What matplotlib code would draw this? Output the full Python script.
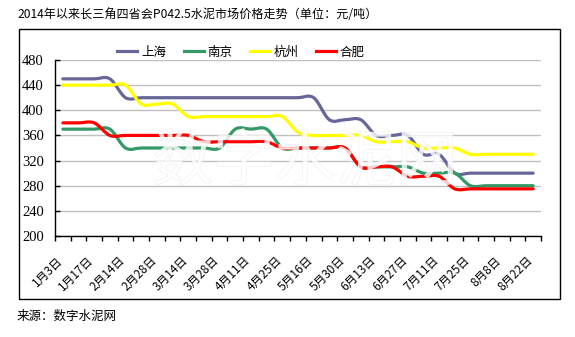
import numpy as np
import matplotlib
matplotlib.use('Agg')
import matplotlib.pyplot as plt
import matplotlib.transforms as mtransforms
import matplotlib.patheffects as pe
from matplotlib.path import Path
from matplotlib.patches import PathPatch, Rectangle
from matplotlib.lines import Line2D

plt.rcParams['font.family'] = ['Noto Sans CJK SC', 'DejaVu Sans']

# weekly quotes, 2014
dates = ['1月3日', '1月10日', '1月17日', '1月24日', '2月14日', '2月21日', '2月28日',
         '3月7日', '3月14日', '3月21日', '3月28日', '4月4日', '4月11日', '4月18日',
         '4月25日', '5月9日', '5月16日', '5月23日', '5月30日', '6月6日', '6月13日',
         '6月20日', '6月27日', '7月4日', '7月11日', '7月18日', '7月25日', '8月1日',
         '8月8日', '8月15日', '8月22日']

shanghai = [450, 450, 450, 450, 420, 420, 420, 420, 420, 420, 420, 420, 420, 420, 420,
            420, 420, 385, 385, 385, 360, 360, 360, 330, 330, 300, 300, 300, 300, 300, 300]
nanjing = [370, 370, 370, 370, 340, 340, 340, 340, 340, 340, 340, 370, 370, 370, 340,
           340, 340, 340, 340, 310, 310, 310, 310, 300, 300, 300, 280, 280, 280, 280, 280]
hangzhou = [440, 440, 440, 440, 440, 410, 410, 410, 390, 390, 390, 390, 390, 390, 390,
            365, 360, 360, 360, 360, 350, 350, 350, 340, 340, 340, 330, 330, 330, 330, 330]
hefei = [380, 380, 380, 360, 360, 360, 360, 360, 360, 350, 350, 350, 350, 350, 340,
         340, 340, 340, 340, 310, 310, 310, 295, 295, 295, 275, 275, 275, 275, 275, 275]

cities = ['上海', '南京', '杭州', '合肥']
series = [shanghai, nanjing, hangzhou, hefei]
colors = ['#666699', '#339966', '#ffff00', '#ff0000']


def smooth_path(y):
    # cubic Bezier through every point, Catmull-Rom style control points
    y = np.asarray(y, dtype=float)
    x = np.arange(len(y), dtype=float)
    pts = np.column_stack([x, y])
    ext = np.vstack([pts[0], pts, pts[-1]])
    verts = [pts[0]]
    codes = [Path.MOVETO]
    for i in range(len(pts) - 1):
        p0, p1, p2, p3 = ext[i], ext[i + 1], ext[i + 2], ext[i + 3]
        c1 = p1 + (p2 - p0) / 6.0
        c2 = p2 - (p3 - p1) / 6.0
        verts += [c1, c2, p2]
        codes += [Path.CURVE4] * 3
    return Path(verts, codes)


fig = plt.figure(figsize=(5.75, 3.37), dpi=100)
ax = fig.add_axes([55 / 575, 1 - 236 / 337, 486 / 575, 176 / 337])

for vals, c in zip(series, colors):
    ax.add_patch(PathPatch(smooth_path(vals), facecolor='none', edgecolor=c,
                           lw=2.3, capstyle='round', joinstyle='round'))

ax.set_xlim(-0.5, len(dates) - 0.5)
ax.set_ylim(200, 480)
ax.set_yticks(range(200, 481, 40))
ax.yaxis.grid(True, color='#c0c0c0', lw=1)
ax.set_axisbelow(True)
for s in ['top', 'right']:
    ax.spines[s].set_visible(False)
for s in ['left', 'bottom']:
    ax.spines[s].set_linewidth(1)

ax.tick_params(axis='y', direction='in', length=3.5, width=1, pad=8)
for lab in ax.get_yticklabels():
    lab.set_family('Liberation Serif')
    lab.set_fontsize(10.5)

# labels on every other category, tick marks between categories
ax.set_xticks(range(0, len(dates), 2))
ax.set_xticklabels(dates[::2], rotation=45, ha='right', va='top',
                   rotation_mode='anchor', fontsize=8.5)
ax.set_xticks(np.arange(-0.5, len(dates), 1), minor=True)
ax.tick_params(axis='x', which='major', length=0, pad=13)
ax.tick_params(axis='x', which='minor', direction='out', length=3.5, width=1)
shift = mtransforms.ScaledTranslation(-7 / 100, 0, fig.dpi_scale_trans)
for lab in ax.get_xticklabels():
    lab.set_transform(lab.get_transform() + shift)

handles = [Line2D([], [], color=c, lw=2.3) for c in colors]
ax.legend(handles, cities, loc='center', bbox_to_anchor=(0.383, 1.045), ncol=4,
          frameon=False, fontsize=9, handlelength=1.6, handletextpad=0.3,
          columnspacing=1.4)

# watermark over the plot
fig.text(305 / 575, 1 - 163 / 337, '数字水泥网', fontsize=44, color='white',
         alpha=0.55, ha='center', va='center', zorder=5,
         path_effects=[pe.withStroke(linewidth=0.7, foreground='#e6e6e6')])

fig.patches.append(Rectangle((19 / 575, 1 - 299 / 337), 541 / 575, 270 / 337,
                             transform=fig.transFigure, fill=False,
                             edgecolor='black', lw=1))
fig.text(17 / 575, 1 - 15 / 337,
         '2014年以来长三角四省会P042.5水泥市场价格走势（单位：元/吨）',
         fontsize=8.7, va='center', ha='left')
fig.text(17 / 575, 1 - 316 / 337, '来源：数字水泥网', fontsize=9,
         va='center', ha='left')

fig.savefig('out.png', dpi=100)
